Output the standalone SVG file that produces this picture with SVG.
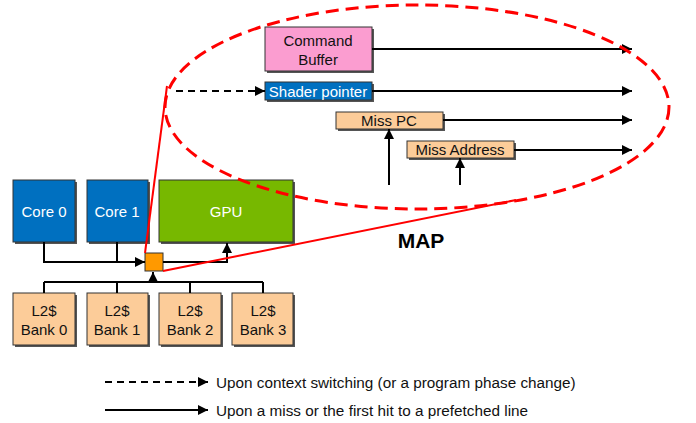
<svg xmlns="http://www.w3.org/2000/svg" width="696" height="423" viewBox="0 0 696 423">
<style>
.box{stroke:#333;stroke-width:1}
.sh{fill:#555}
.t{font-family:"Liberation Sans",Arial,sans-serif;font-size:15px;text-anchor:middle;fill:#111}
.w{fill:#fff}
.ln{fill:none;stroke:#000;stroke-width:2}
.lg{font-family:"Liberation Sans",Arial,sans-serif;font-size:15.3px;fill:#111}
</style>
<defs>
<marker id="ah" viewBox="0 0 10 10" refX="10" refY="5" markerWidth="5.5" markerHeight="5" orient="auto" markerUnits="strokeWidth"><path d="M0,0 L10,5 L0,10 z" fill="#000"/></marker>
</defs>
<rect width="696" height="423" fill="#fff"/>

<g id="core0"><rect class="sh" x="15" y="182" width="62" height="62"/><rect class="box" x="13" y="180" width="62" height="62" fill="#0070c0"/><text class="t w" x="44" y="217">Core 0</text></g>
<g id="core1"><rect class="sh" x="89" y="182" width="61" height="62"/><rect class="box" x="87" y="180" width="61" height="62" fill="#0070c0"/><text class="t w" x="117" y="217">Core 1</text></g>
<g id="gpu"><rect class="sh" x="161" y="182" width="134" height="62"/><rect class="box" x="159" y="180" width="134" height="62" fill="#77b800"/><text class="t w" x="226" y="217">GPU</text></g>

<g id="bank0"><rect class="sh" x="15" y="295" width="62" height="52"/><rect class="box" x="13" y="293" width="62" height="52" fill="#fccc99"/><text class="t" x="44" y="316">L2$</text><text class="t" x="44" y="335">Bank 0</text></g>
<g id="bank1"><rect class="sh" x="89" y="295" width="61" height="52"/><rect class="box" x="87" y="293" width="61" height="52" fill="#fccc99"/><text class="t" x="117" y="316">L2$</text><text class="t" x="117" y="335">Bank 1</text></g>
<g id="bank2"><rect class="sh" x="161" y="295" width="62" height="52"/><rect class="box" x="159" y="293" width="62" height="52" fill="#fccc99"/><text class="t" x="190" y="316">L2$</text><text class="t" x="190" y="335">Bank 2</text></g>
<g id="bank3"><rect class="sh" x="234" y="295" width="61" height="52"/><rect class="box" x="232" y="293" width="61" height="52" fill="#fccc99"/><text class="t" x="263" y="316">L2$</text><text class="t" x="263" y="335">Bank 3</text></g>

<g id="map-node"><rect class="box" x="145" y="253" width="18" height="18" fill="#ff9900"/></g>

<g id="cmdbuf"><rect class="sh" x="267" y="29" width="107" height="44"/><rect class="box" x="265" y="27" width="107" height="44" fill="#fb9dd0"/><text class="t" x="318" y="46">Command</text><text class="t" x="318" y="65">Buffer</text></g>
<g id="shader"><rect class="sh" x="267" y="84" width="107" height="18"/><rect class="box" x="265" y="82" width="107" height="18" fill="#0070c0"/><text class="t w" x="318" y="97">Shader pointer</text></g>
<g id="misspc"><rect class="sh" x="338" y="114" width="107" height="17"/><rect class="box" x="336" y="112" width="107" height="17" fill="#fccc99"/><text class="t" x="389" y="126">Miss PC</text></g>
<g id="missaddr"><rect class="sh" x="409" y="143" width="107" height="17"/><rect class="box" x="407" y="141" width="107" height="17" fill="#fccc99"/><text class="t" x="460" y="155">Miss Address</text></g>

<g id="connectors">
<polyline class="ln" points="44,242 44,262 145,262" marker-end="url(#ah)"/>
<line class="ln" x1="117" y1="242" x2="117" y2="262"/>
<polyline class="ln" points="163,262 227,262 227,243" marker-end="url(#ah)"/>
<line class="ln" x1="44" y1="282" x2="263" y2="282"/>
<line class="ln" x1="44" y1="282" x2="44" y2="293"/>
<line class="ln" x1="117" y1="282" x2="117" y2="293"/>
<line class="ln" x1="190" y1="282" x2="190" y2="293"/>
<line class="ln" x1="263" y1="282" x2="263" y2="293"/>
<line class="ln" x1="153" y1="282" x2="153" y2="272" marker-end="url(#ah)"/>
<line class="ln" x1="372" y1="49" x2="632" y2="49" marker-end="url(#ah)"/>
<line class="ln" x1="372" y1="91" x2="632" y2="91" marker-end="url(#ah)"/>
<line class="ln" x1="443" y1="120" x2="632" y2="120" marker-end="url(#ah)"/>
<line class="ln" x1="514" y1="150" x2="632" y2="150" marker-end="url(#ah)"/>
<line class="ln" x1="176" y1="91" x2="265" y2="91" stroke-dasharray="7,5" marker-end="url(#ah)"/>
<line class="ln" x1="389" y1="185" x2="389" y2="129" marker-end="url(#ah)"/>
<line class="ln" x1="460" y1="185" x2="460" y2="158" marker-end="url(#ah)"/>
<line x1="145" y1="253" x2="167" y2="86" stroke="#ff0000" stroke-width="2"/>
<line x1="163" y1="271" x2="516" y2="200" stroke="#ff0000" stroke-width="2"/>
<ellipse cx="417" cy="107" rx="252" ry="102" fill="none" stroke="#ff0000" stroke-width="3" stroke-dasharray="13,7"/>
<line class="ln" x1="105" y1="382" x2="208" y2="382" stroke-dasharray="7,5" marker-end="url(#ah)"/>
<line class="ln" x1="105" y1="410" x2="208" y2="410" marker-end="url(#ah)"/>
</g>

<text x="421" y="248" font-family="Liberation Sans,Arial,sans-serif" font-size="21" font-weight="bold" text-anchor="middle" fill="#000">MAP</text>
<text class="lg" x="216" y="388">Upon context switching (or a program phase change)</text>
<text class="lg" x="216" y="416">Upon a miss or the first hit to a prefetched line</text>
</svg>
